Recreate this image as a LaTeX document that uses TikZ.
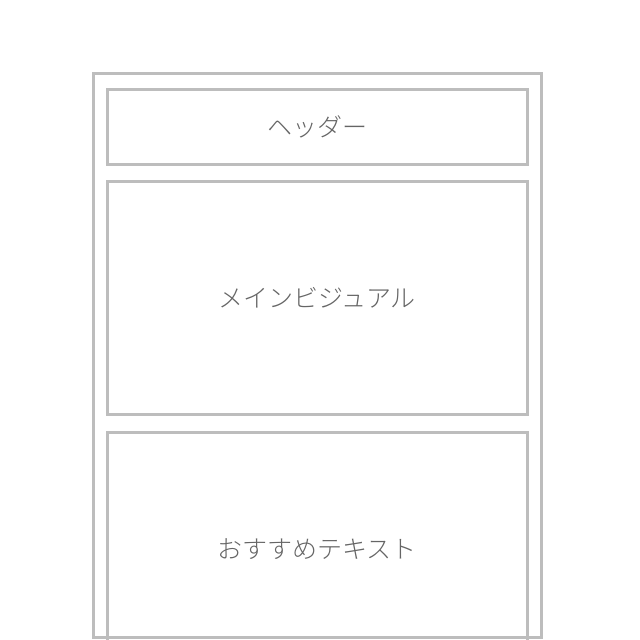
\documentclass[tikz,border=0pt]{standalone}
\usepackage{fontspec}
\newfontfamily\cjk{Noto Sans CJK JP Light}
\usetikzlibrary{positioning}
\definecolor{framegray}{HTML}{BDBDBD}
\definecolor{labelgray}{HTML}{656565}

\begin{document}
\begin{tikzpicture}
[x=1pt,y=-1pt,
 part/.style={draw=framegray, line width=3pt, minimum width=420pt,
   inner sep=0pt, font=\cjk\fontsize{25}{25}\selectfont, text=labelgray}]
\useasboundingbox (0,0) rectangle (640,640);
\clip (0,0) rectangle (640,640);
\draw[framegray, line width=3pt] (93.5,73.5) rectangle (541,637);
\node[part, minimum height=75pt](header) at (317,126.5){ヘッダー};
\node[part, minimum height=233pt, below = 14.5pt of header](visual){メインビジュアル};
\node[part, minimum height=235pt, below = 14.5pt of visual](recommend){おすすめテキスト};
\end{tikzpicture}
\end{document}
